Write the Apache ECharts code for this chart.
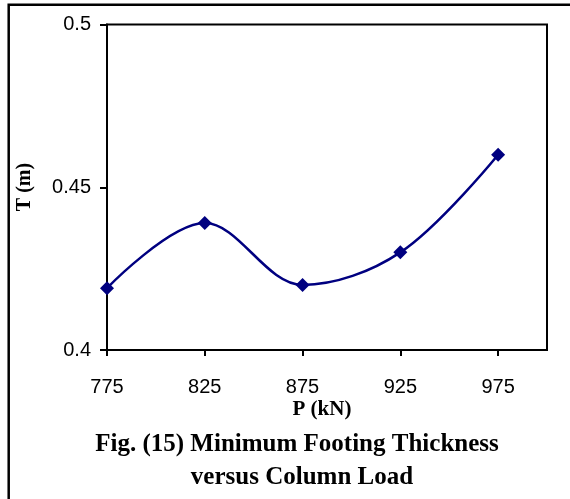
<!DOCTYPE html>
<html>
<head>
<meta charset="utf-8">
<script src="https://cdn.jsdelivr.net/npm/echarts@6/dist/echarts.min.js"></script>
<style>
html,body{margin:0;padding:0;background:#fff;}
#chart{width:570px;height:499px;}
</style>
</head>
<body>
<div id="chart"></div>
<script>
// Data
const loads = [775, 825, 875, 925, 975];          // P (kN)
const thickness = [0.419, 0.439, 0.420, 0.430, 0.460]; // T (m)
const xTicks = [775, 825, 875, 925, 975];
const yTicks = [0.4, 0.45, 0.5];
const xAxisTitle = 'P (kN)';
const yAxisTitle = 'T (m)';
const captionLines = ['Fig. (15) Minimum Footing Thickness', 'versus Column Load'];

const chart = echarts.init(document.getElementById('chart'), null, {renderer: 'canvas'});
const serif = '"Liberation Serif", "Times New Roman", serif';
const sans = '"Liberation Sans", Arial, sans-serif';

chart.setOption({
  animation: false,
  backgroundColor: '#fff',
  grid: {
    left: 107, right: 23, top: 24.5, bottom: 149,
    show: true, borderColor: '#000', borderWidth: 2, backgroundColor: 'transparent'
  },
  xAxis: {
    type: 'value', min: 775, max: 1000,
    axisLine: {show: true, onZero: false, lineStyle: {color: '#000', width: 2}},
    axisTick: {show: true, length: 6, inside: false, customValues: xTicks, lineStyle: {color: '#000', width: 2}},
    axisLabel: {customValues: xTicks, margin: 27, color: '#000', fontFamily: sans, fontSize: 20},
    splitLine: {show: false}
  },
  yAxis: {
    type: 'value', min: 0.4, max: 0.5, interval: 0.05,
    axisLine: {show: true, lineStyle: {color: '#000', width: 2}},
    axisTick: {show: true, length: 7, customValues: yTicks, lineStyle: {color: '#000', width: 2}},
    axisLabel: {customValues: yTicks, margin: 16, color: '#000', fontFamily: sans, fontSize: 20},
    splitLine: {show: false}
  },
  series: [{
    type: 'line',
    data: loads.map((p, i) => [p, thickness[i]]),
    smooth: 0.35,
    symbol: 'diamond',
    symbolSize: 14,
    itemStyle: {color: '#000080'},
    lineStyle: {color: '#000080', width: 2.5}
  }],
  graphic: [
    {type: 'rect', shape: {x: 8.7, y: 4.7, width: 700, height: 700}, style: {fill: 'none', stroke: '#000', lineWidth: 2.5}, silent: true},
    {type: 'text', x: 322, y: 410, style: {text: xAxisTitle, font: 'bold 21px ' + serif, fill: '#000', align: 'center', verticalAlign: 'middle'}},
    {type: 'text', x: 25, y: 187, rotation: Math.PI / 2, style: {text: yAxisTitle, font: 'bold 20px ' + serif, fill: '#000', align: 'center', verticalAlign: 'middle'}},
    {type: 'text', x: 297, y: 445, style: {text: captionLines[0], font: 'bold 25px ' + serif, fill: '#000', align: 'center', verticalAlign: 'middle'}},
    {type: 'text', x: 302, y: 478, style: {text: captionLines[1], font: 'bold 25px ' + serif, fill: '#000', align: 'center', verticalAlign: 'middle'}}
  ]
});
</script>
</body>
</html>
